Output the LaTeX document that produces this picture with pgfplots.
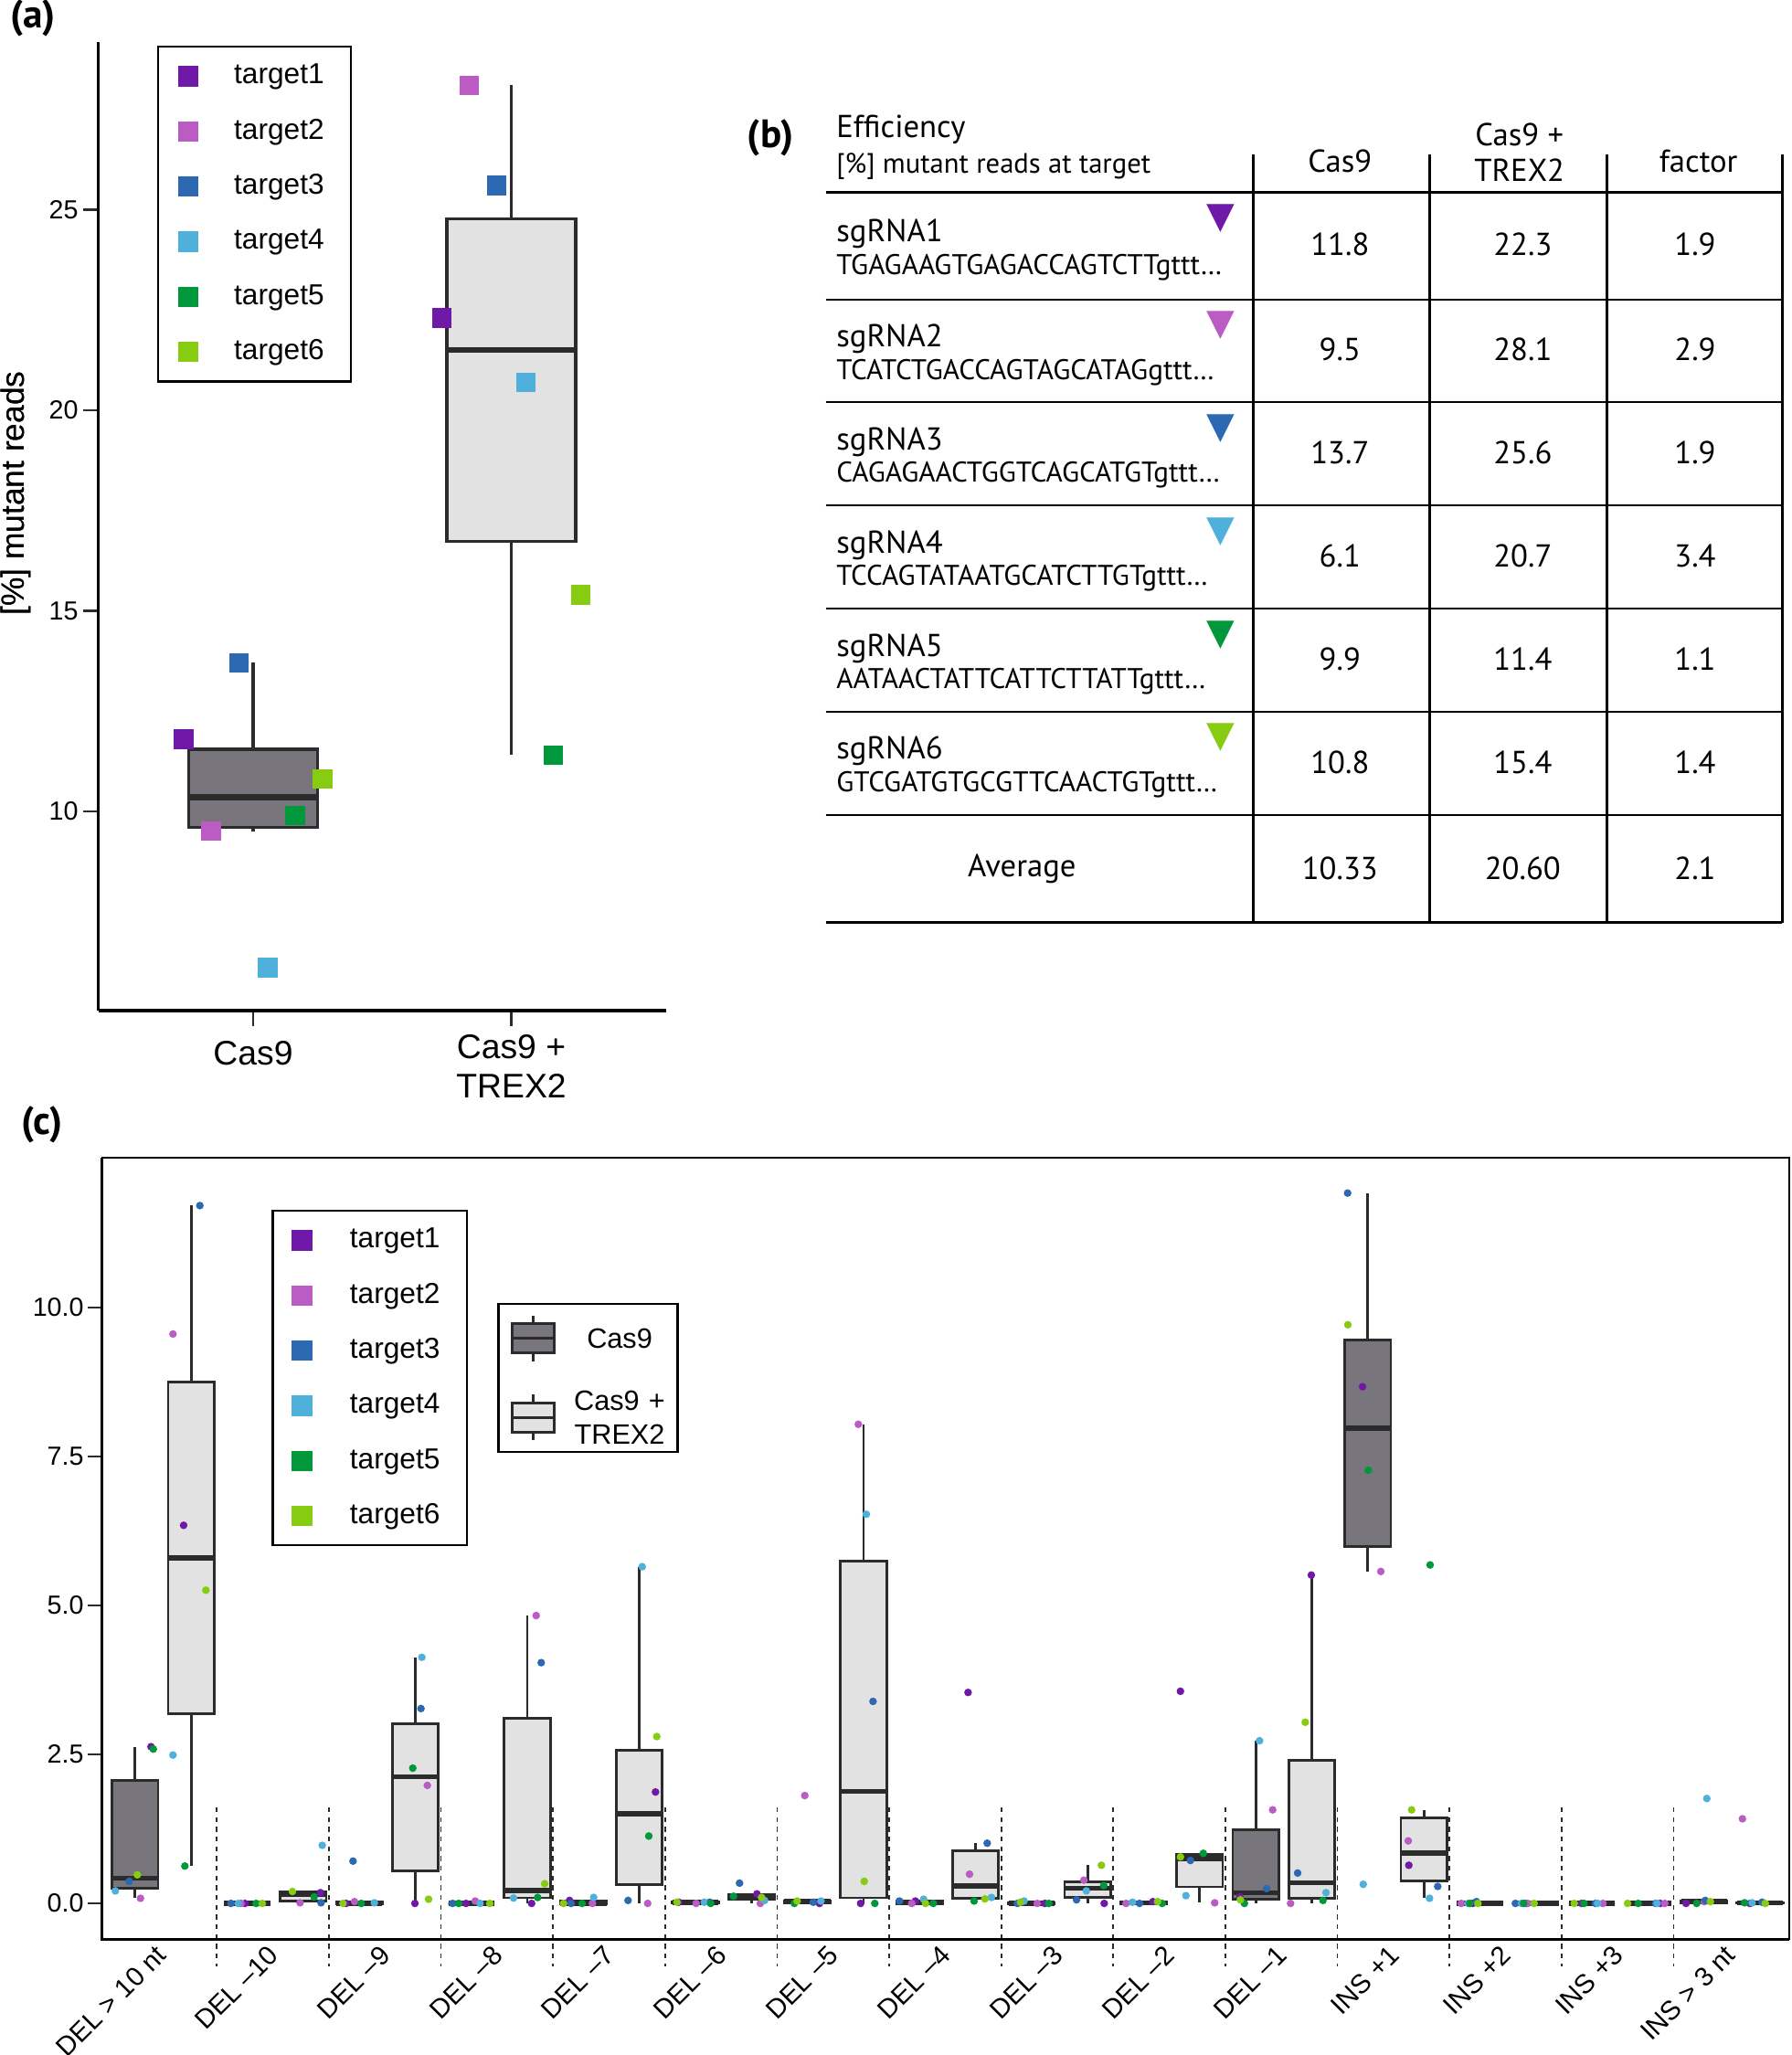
\documentclass[border=0pt]{standalone}
\usepackage{fontspec}
\setmainfont{Liberation Sans}
\newfontfamily\pts{PT Sans}
\newfontfamily\djv{DejaVu Sans}
\usepackage{pgfplots}
\pgfplotsset{compat=1.18}
\usepgfplotslibrary{statistics}

\definecolor{tA}{RGB}{112,24,168}
\definecolor{tB}{RGB}{186,92,196}
\definecolor{tC}{RGB}{45,104,178}
\definecolor{tD}{RGB}{80,176,220}
\definecolor{tE}{RGB}{0,152,58}
\definecolor{tF}{RGB}{136,204,18}
\definecolor{boxline}{RGB}{43,43,43}
\definecolor{casfill}{RGB}{120,118,124}
\definecolor{trexfill}{RGB}{226,226,226}

\pgfplotsset{
  cboxA/.style={forget plot, draw=boxline, fill=casfill, line width=1pt, boxplot/every median/.style={line width=2pt}},
  tboxA/.style={forget plot, draw=boxline, fill=trexfill, line width=1pt, boxplot/every median/.style={line width=2pt}},
  cbox/.style={forget plot, draw=boxline, fill=casfill, line width=0.85pt, boxplot/every median/.style={line width=1.7pt}},
  tbox/.style={forget plot, draw=boxline, fill=trexfill, line width=0.85pt, boxplot/every median/.style={line width=1.7pt}},
  dot/.style={only marks, mark=*, mark size=1.05pt, color=#1},
}

\begin{document}
\begin{tikzpicture}
\path[use as bounding box] (0pt,0pt) rectangle (588.3pt,-674.7pt);

%================ panel (a)
\begin{axis}[
  at={(32.28pt,-331.8pt)}, anchor=south west, scale only axis,
  width=186.42pt, height=318pt,
  xmin=0.4, xmax=2.6, ymin=5.03, ymax=29.18,
  axis x line=bottom, axis y line=left,
  axis line style={-, line width=1pt, color=black},
  xtick={1,2}, xticklabels={{\raisebox{-2.1pt}[\height]{Cas9}},{Cas9 +\\TREX2}},
  ytick={10,15,20,25},
  tick align=outside, major tick length=5pt,
  tick style={line width=0.8pt, color=boxline},
  x tick label style={font=\fontsize{11.2}{12.9}\selectfont, align=center, anchor=north, yshift=0.5pt},
  y tick label style={font=\fontsize{8.6}{10}\selectfont, inner xsep=1.4pt},
  /pgf/number format/assume math mode=true,
  boxplot/draw direction=y,
  boxplot/box extend=0.5, boxplot/whisker extend=0,
  legend style={at={(0.1036,0.9962)}, anchor=north west, draw=black, line width=0.7pt,
    inner xsep=4.95pt, inner ysep=0.65pt, row sep=0pt, column sep=10.05pt,
    font=\fontsize{9.5}{11}\selectfont,
    nodes={minimum height=18.09pt, inner ysep=0pt, inner xsep=0pt, text width=33.45pt, align=left, anchor=west},
    cells={anchor=west}},
  legend image code/.code={\path[draw=none, fill=none] (-4.95pt,0pt) -- (4.95pt,0pt); \draw[#1] plot coordinates {(0pt,0pt)};},
]
\addplot[cboxA, boxplot prepared={draw position=1, lower whisker=9.5, lower quartile=9.6, median=10.35, upper quartile=11.55, upper whisker=13.7}] coordinates {};
\addplot[tboxA, boxplot prepared={draw position=2, lower whisker=11.4, lower quartile=16.725, median=21.5, upper quartile=24.775, upper whisker=28.1}] coordinates {};
\addplot[only marks, mark=square*, mark size=3pt, color=tA] coordinates {(0.731,11.8) (1.731,22.3)}; \addlegendentry{target1}
\addplot[only marks, mark=square*, mark size=3pt, color=tB] coordinates {(0.837,9.5) (1.837,28.1)}; \addlegendentry{target2}
\addplot[only marks, mark=square*, mark size=3pt, color=tC] coordinates {(0.944,13.7) (1.944,25.6)}; \addlegendentry{target3}
\addplot[only marks, mark=square*, mark size=3pt, color=tD] coordinates {(1.056,6.1) (2.056,20.7)}; \addlegendentry{target4}
\addplot[only marks, mark=square*, mark size=3pt, color=tE] coordinates {(1.163,9.9) (2.163,11.4)}; \addlegendentry{target5}
\addplot[only marks, mark=square*, mark size=3pt, color=tF] coordinates {(1.269,10.8) (2.269,15.4)}; \addlegendentry{target6}
\end{axis}
\node[rotate=90, font=\fontsize{10.6}{12}\selectfont] at (5.3pt,-162pt) {[\%] mutant reads};
\node[font=\fontsize{13}{14}\selectfont\pts\bfseries] at (10.8pt,-6pt) {(a)};

%================ panel (b) table
\node[font=\fontsize{13}{14}\selectfont\pts\bfseries] at (253pt,-45.3pt) {(b)};
\draw[line width=1pt] (271.1pt,-63.09pt) -- (585pt,-63.09pt);
\foreach \y in {-98.31,-132.09,-165.9,-199.86,-233.67,-267.45}
  \draw[line width=0.6pt] (271.1pt,\y pt) -- (585pt,\y pt);
\draw[line width=1pt] (271.1pt,-302.85pt) -- (585pt,-302.85pt);
\foreach \x in {411.5,469.4,527.4,585}
  \draw[line width=0.9pt] (\x pt,-50.58pt) -- (\x pt,-302.85pt);
\node[anchor=west, inner sep=0pt, font=\fontsize{10.4}{12}\pts] at (274.4pt,-42.66pt) {Efficiency};
\node[anchor=west, inner sep=0pt, font=\fontsize{9.2}{10}\pts] at (274.4pt,-54.63pt) {[\%] mutant reads at target};
\node[inner sep=0pt, font=\fontsize{10.4}{12}\pts] at (439.9pt,-52.9pt) {Cas9};
\node[inner sep=0pt, font=\fontsize{10.4}{12}\pts] at (498.8pt,-44.07pt) {Cas9 +};
\node[inner sep=0pt, font=\fontsize{10.4}{12}\pts] at (498.8pt,-55.89pt) {TREX2};
\node[inner sep=0pt, font=\fontsize{10.4}{12}\pts] at (557.6pt,-52.9pt) {factor};
\foreach \yt/\yc/\nm/\sq/\va/\vb/\vf/\col in {
  -63.09/-80.7/sgRNA1/TGAGAAGTGAGACCAGTCTTgttt/11.8/22.3/1.9/tA,
  -98.31/-115.2/sgRNA2/TCATCTGACCAGTAGCATAGgttt/9.5/28.1/2.9/tB,
  -132.09/-149.0/sgRNA3/CAGAGAACTGGTCAGCATGTgttt/13.7/25.6/1.9/tC,
  -165.9/-182.88/sgRNA4/TCCAGTATAATGCATCTTGTgttt/6.1/20.7/3.4/tD,
  -199.86/-216.77/sgRNA5/AATAACTATTCATTCTTATTgttt/9.9/11.4/1.1/tE,
  -233.67/-250.56/sgRNA6/GTCGATGTGCGTTCAACTGTgttt/10.8/15.4/1.4/tF}{
  \node[anchor=west, inner sep=0pt, font=\fontsize{10.4}{12}\pts] at (274.4pt,{\yc pt+3.9pt}) {\nm};
  \node[anchor=west, inner sep=0pt, font=\fontsize{9.35}{10}\pts] at (274.4pt,{\yc pt-7.05pt}) {\sq\ldots};
  \node[inner sep=0pt, text=\col, font=\fontsize{12}{12}\djv] at (400.8pt,{\yt pt-8.6pt}) {▼};
  \node[inner sep=0pt, font=\fontsize{10.4}{12}\pts] at (439.9pt,{\yc pt+0.4pt}) {\va};
  \node[inner sep=0pt, font=\fontsize{10.4}{12}\pts] at (499.9pt,{\yc pt+0.4pt}) {\vb};
  \node[inner sep=0pt, font=\fontsize{10.4}{12}\pts] at (556.5pt,{\yc pt+0.4pt}) {\vf};
}
\node[inner sep=0pt, font=\fontsize{10.4}{12}\pts] at (335.5pt,-285.15pt) {Average};
\node[inner sep=0pt, font=\fontsize{10.4}{12}\pts] at (439.9pt,-285.15pt) {10.33};
\node[inner sep=0pt, font=\fontsize{10.4}{12}\pts] at (499.9pt,-285.15pt) {20.60};
\node[inner sep=0pt, font=\fontsize{10.4}{12}\pts] at (556.5pt,-285.15pt) {2.1};

%================ panel (c)
\begin{axis}[
  at={(33.48pt,-636.66pt)}, anchor=south west, scale only axis,
  width=553.92pt, height=256.5pt,
  xmin=0.4545, xmax=15.511, ymin=-0.6, ymax=12.51,
  axis line style={line width=0.6pt, color=black},
  xtick={1,...,15},
  xticklabels={DEL > 10 nt, DEL –10, DEL –9, DEL –8, DEL –7, DEL –6, DEL –5, DEL –4, DEL –3, DEL –2, DEL –1, INS +1, INS +2, INS +3, INS > 3 nt},
  ytick={0,2.5,5,7.5,10},
  yticklabel style={/pgf/number format/fixed, /pgf/number format/fixed zerofill, /pgf/number format/precision=1},
  xtick pos=left, ytick pos=left,
  tick align=outside, major tick length=4.8pt,
  tick style={line width=0.8pt, color=boxline},
  xtick style={draw=none},
  x tick label style={rotate=45, anchor=north east, font=\fontsize{8.8}{10}\selectfont, inner sep=1.5pt, yshift=5.9pt, xshift=2pt},
  y tick label style={font=\fontsize{8.6}{10}\selectfont, inner xsep=1pt},
  /pgf/number format/assume math mode=true,
  clip=false,
  boxplot/draw direction=y,
  boxplot/box extend=0.41, boxplot/whisker extend=0,
]
\addplot[forget plot, line width=0.5pt, color=boxline, dash pattern=on 1.6pt off 1.6pt, unbounded coords=jump] coordinates {
 (1.479,1.61) (1.479,-1.06) (nan,nan) (2.479,1.61) (2.479,-1.06) (nan,nan)
 (3.479,1.61) (3.479,-1.06) (nan,nan) (4.479,1.61) (4.479,-1.06) (nan,nan)
 (5.479,1.61) (5.479,-1.06) (nan,nan) (6.479,1.61) (6.479,-1.06) (nan,nan)
 (7.479,1.61) (7.479,-1.06) (nan,nan) (8.479,1.61) (8.479,-1.06) (nan,nan)
 (9.479,1.61) (9.479,-1.06) (nan,nan) (10.479,1.61) (10.479,-1.06) (nan,nan)
 (11.479,1.61) (11.479,-1.06) (nan,nan) (12.479,1.61) (12.479,-1.06) (nan,nan)
 (13.479,1.61) (13.479,-1.06) (nan,nan) (14.479,1.61) (14.479,-1.06)};
% Cas9 boxes
\addplot[cbox, boxplot prepared={draw position=0.75, lower whisker=0.086, lower quartile=0.25, median=0.425, upper quartile=2.06, upper whisker=2.63}] coordinates {};
\addplot[cbox, boxplot prepared={draw position=1.75, lower whisker=0, lower quartile=0, median=0, upper quartile=0, upper whisker=0}] coordinates {};
\addplot[cbox, boxplot prepared={draw position=2.75, lower whisker=0, lower quartile=0, median=0.005, upper quartile=0.025, upper whisker=0.03}] coordinates {};
\addplot[cbox, boxplot prepared={draw position=3.75, lower whisker=0, lower quartile=0, median=0, upper quartile=0, upper whisker=0}] coordinates {};
\addplot[cbox, boxplot prepared={draw position=4.75, lower whisker=0, lower quartile=0, median=0, upper quartile=0.0375, upper whisker=0.05}] coordinates {};
\addplot[cbox, boxplot prepared={draw position=5.75, lower whisker=0, lower quartile=0.005, median=0.02, upper quartile=0.02, upper whisker=0.02}] coordinates {};
\addplot[cbox, boxplot prepared={draw position=6.75, lower whisker=0, lower quartile=0.005, median=0.03, upper quartile=0.04, upper whisker=0.04}] coordinates {};
\addplot[cbox, boxplot prepared={draw position=7.75, lower whisker=0, lower quartile=0, median=0.02, upper quartile=0.04, upper whisker=0.07}] coordinates {};
\addplot[cbox, boxplot prepared={draw position=8.75, lower whisker=0, lower quartile=0, median=0, upper quartile=0.015, upper whisker=0.02}] coordinates {};
\addplot[cbox, boxplot prepared={draw position=9.75, lower whisker=0, lower quartile=0, median=0.01, upper quartile=0.0275, upper whisker=0.03}] coordinates {};
\addplot[cbox, boxplot prepared={draw position=10.75, lower whisker=0, lower quartile=0.0725, median=0.18, upper quartile=1.24, upper whisker=2.73}] coordinates {};
\addplot[cbox, boxplot prepared={draw position=11.75, lower whisker=5.57, lower quartile=5.995, median=7.97, upper quartile=9.45, upper whisker=11.92}] coordinates {};
\addplot[cbox, boxplot prepared={draw position=12.75, lower whisker=0, lower quartile=0, median=0, upper quartile=0, upper whisker=0}] coordinates {};
\addplot[cbox, boxplot prepared={draw position=13.75, lower whisker=0, lower quartile=0, median=0, upper quartile=0, upper whisker=0}] coordinates {};
\addplot[cbox, boxplot prepared={draw position=14.75, lower whisker=0, lower quartile=0.0075, median=0.03, upper quartile=0.045, upper whisker=0.05}] coordinates {};
% Cas9 + TREX2 boxes
\addplot[tbox, boxplot prepared={draw position=1.25, lower whisker=0.627, lower quartile=3.18, median=5.80, upper quartile=8.75, upper whisker=11.71}] coordinates {};
\addplot[tbox, boxplot prepared={draw position=2.25, lower whisker=0.01, lower quartile=0.035, median=0.145, upper quartile=0.195, upper whisker=0.2}] coordinates {};
\addplot[tbox, boxplot prepared={draw position=3.25, lower whisker=0, lower quartile=0.5475, median=2.125, upper quartile=3.02, upper whisker=4.13}] coordinates {};
\addplot[tbox, boxplot prepared={draw position=4.25, lower whisker=0, lower quartile=0.0925, median=0.215, upper quartile=3.1125, upper whisker=4.83}] coordinates {};
\addplot[tbox, boxplot prepared={draw position=5.25, lower whisker=0, lower quartile=0.32, median=1.50, upper quartile=2.5675, upper whisker=5.65}] coordinates {};
\addplot[tbox, boxplot prepared={draw position=6.25, lower whisker=0, lower quartile=0.0625, median=0.11, upper quartile=0.15, upper whisker=0.16}] coordinates {};
\addplot[tbox, boxplot prepared={draw position=7.25, lower whisker=0, lower quartile=0.0925, median=1.88, upper quartile=5.745, upper whisker=8.04}] coordinates {};
\addplot[tbox, boxplot prepared={draw position=8.25, lower whisker=0.04, lower quartile=0.081, median=0.295, upper quartile=0.88, upper whisker=1.01}] coordinates {};
\addplot[tbox, boxplot prepared={draw position=9.25, lower whisker=0, lower quartile=0.0975, median=0.255, upper quartile=0.3675, upper whisker=0.64}] coordinates {};
\addplot[tbox, boxplot prepared={draw position=10.25, lower whisker=0.01, lower quartile=0.2775, median=0.75, upper quartile=0.825, upper whisker=0.84}] coordinates {};
\addplot[tbox, boxplot prepared={draw position=11.25, lower whisker=0, lower quartile=0.0825, median=0.345, upper quartile=2.4075, upper whisker=5.51}] coordinates {};
\addplot[tbox, boxplot prepared={draw position=12.25, lower whisker=0.086, lower quartile=0.374, median=0.845, upper quartile=1.44, upper whisker=1.57}] coordinates {};
\addplot[tbox, boxplot prepared={draw position=13.25, lower whisker=0, lower quartile=0, median=0, upper quartile=0, upper whisker=0}] coordinates {};
\addplot[tbox, boxplot prepared={draw position=14.25, lower whisker=0, lower quartile=0, median=0, upper quartile=0, upper whisker=0}] coordinates {};
\addplot[tbox, boxplot prepared={draw position=15.25, lower whisker=0, lower quartile=0.0025, median=0.01, upper quartile=0.0175, upper whisker=0.02}] coordinates {};
% points
\addplot[dot=tA] coordinates {(0.892,2.63) (1.183,6.345) (1.73,0) (2.404,0.18) (2.633,0) (3.247,0) (3.703,0) (4.288,0) (4.627,0.05) (5.394,1.87) (5.601,0.02) (6.299,0.16) (6.857,0) (7.224,0) (7.713,0.04) (8.183,3.54) (8.868,0) (9.398,0) (9.833,0.03) (10.078,3.56) (10.608,0.11) (11.246,5.51) (11.703,8.67) (12.116,0.64) (12.687,0) (13.163,0) (13.658,0) (14.359,0) (14.59,0) (15.16,0)};
\addplot[dot=tB] coordinates {(0.798,0.086) (1.088,9.555) (1.695,0) (2.222,0.01) (2.708,0.03) (3.358,1.98) (3.785,0.04) (4.329,4.83) (4.831,0) (5.324,0) (5.756,0) (6.329,0) (6.726,1.81) (7.204,8.04) (7.68,0) (8.196,0.49) (8.8,0) (9.216,0.39) (9.593,0) (10.384,0.01) (10.901,1.57) (11.061,0) (11.866,5.57) (12.111,1.05) (12.584,0) (13.176,0) (13.848,0) (14.4,0) (14.753,0.03) (15.093,1.42)};
\addplot[dot=tC] coordinates {(0.697,0.37) (1.328,11.71) (1.605,0) (2.409,0.01) (2.695,0.71) (3.301,3.27) (3.583,0) (4.374,4.04) (4.641,0) (5.149,0.05) (5.878,0.02) (6.144,0.34) (6.802,0.02) (7.335,3.39) (7.571,0.04) (8.354,1.01) (8.623,0) (9.151,0.06) (9.713,0) (10.167,0.72) (10.847,0.25) (11.124,0.51) (11.57,11.92) (12.374,0.285) (12.72,0.03) (13.067,0) (13.782,0) (14.318,0) (14.761,0.05) (15.269,0.02)};
\addplot[dot=tD] coordinates {(0.574,0.21) (1.088,2.49) (1.67,0) (2.42,0.975) (2.885,0.01) (3.309,4.13) (3.828,0) (4.127,0.09) (4.842,0.1) (5.275,5.65) (5.829,0.02) (6.367,0.05) (6.87,0.04) (7.275,6.53) (7.786,0.07) (8.392,0.1) (8.683,0.04) (9.238,0.21) (9.65,0.02) (10.127,0.13) (10.784,2.73) (11.377,0.18) (11.709,0.32) (12.301,0.086) (12.646,0) (13.122,0) (13.801,0) (14.331,0) (14.775,1.76) (15.179,0.01)};
\addplot[dot=tE] coordinates {(0.912,2.59) (1.194,0.627) (1.83,0) (2.347,0.11) (2.768,0) (3.228,2.27) (3.638,0) (4.342,0.1) (4.739,0) (5.334,1.13) (5.886,0) (6.09,0.12) (6.633,0) (7.351,0) (7.873,0) (8.237,0.04) (8.903,0) (9.393,0.30) (9.915,0) (10.282,0.84) (10.649,0) (11.35,0.05) (11.754,7.27) (12.306,5.68) (12.66,0) (13.141,0) (13.679,0) (14.163,0) (14.685,0) (15.112,0.01)};
\addplot[dot=tF] coordinates {(0.77,0.48) (1.382,5.256) (1.885,0) (2.154,0.2) (2.605,0) (3.369,0.07) (3.915,0) (4.405,0.33) (4.573,0) (5.405,2.80) (5.585,0.02) (6.34,0.1) (6.658,0.04) (7.256,0.37) (7.803,0) (8.333,0.075) (8.651,0.02) (9.373,0.64) (9.874,0.03) (10.078,0.78) (10.613,0.06) (11.192,3.04) (11.572,9.71) (12.141,1.57) (12.733,0) (13.234,0) (13.592,0) (14.068,0) (14.807,0.03) (15.297,0)};
\draw[line width=1pt, color=black] (rel axis cs:0,1) -- (rel axis cs:0,0) -- (rel axis cs:1,0);
\end{axis}

% legend: targets (c)
\begin{axis}[
  at={(33.48pt,-636.66pt)}, anchor=south west, scale only axis,
  width=553.92pt, height=256.5pt, hide axis,
  xmin=0, xmax=1, ymin=0, ymax=1,
  legend style={at={(0.1006,0.9336)}, anchor=north west, draw=black, line width=0.7pt,
    inner xsep=4.8pt, inner ysep=0.65pt, row sep=0pt, column sep=10.9pt,
    font=\fontsize{9.5}{11}\selectfont,
    nodes={minimum height=18.09pt, inner ysep=0pt, inner xsep=0pt, text width=33.6pt, align=left, anchor=west},
    cells={anchor=west}},
  legend image code/.code={\path[draw=none, fill=none] (-4.8pt,0pt) -- (4.8pt,0pt); \draw[#1] plot coordinates {(0pt,0pt)};},
]
\addlegendimage{only marks, mark=square*, mark size=3pt, color=tA} \addlegendentry{target1}
\addlegendimage{only marks, mark=square*, mark size=3pt, color=tB} \addlegendentry{target2}
\addlegendimage{only marks, mark=square*, mark size=3pt, color=tC} \addlegendentry{target3}
\addlegendimage{only marks, mark=square*, mark size=3pt, color=tD} \addlegendentry{target4}
\addlegendimage{only marks, mark=square*, mark size=3pt, color=tE} \addlegendentry{target5}
\addlegendimage{only marks, mark=square*, mark size=3pt, color=tF} \addlegendentry{target6}
\end{axis}

% legend: boxes (c)
\begin{axis}[
  at={(33.48pt,-636.66pt)}, anchor=south west, scale only axis,
  width=553.92pt, height=256.5pt, hide axis,
  xmin=0, xmax=1, ymin=0, ymax=1,
  legend style={at={(0.2343,0.8146)}, anchor=north west, draw=black, line width=0.7pt,
    inner xsep=4pt, inner ysep=0pt, row sep=3.4pt, column sep=5.9pt,
    font=\fontsize{9.2}{11}\selectfont,
    nodes={minimum height=22.6pt, inner sep=0pt, text width=30pt, align=center, anchor=center, text depth=, text height=},
    cells={anchor=center}},
  legend image code/.code={
    \draw[draw=boxline, line width=0.9pt, #1] (-7pt,-4.8pt) rectangle (7pt,4.8pt);
    \draw[draw=boxline, line width=0.9pt] (-7pt,0pt) -- (7pt,0pt) (0pt,4.8pt) -- (0pt,7.5pt) (0pt,-4.8pt) -- (0pt,-7.5pt);},
]
\addlegendimage{fill=casfill} \addlegendentry{Cas9}
\addlegendimage{fill=trexfill} \addlegendentry{Cas9 +\\TREX2}
\end{axis}

\node[rotate=90, font=\fontsize{10.6}{12}\selectfont] at (5.3pt,-162pt) {[\%] mutant reads};
\node[font=\fontsize{13}{14}\selectfont\pts\bfseries] at (13.8pt,-369.3pt) {(c)};
\end{tikzpicture}
\end{document}
